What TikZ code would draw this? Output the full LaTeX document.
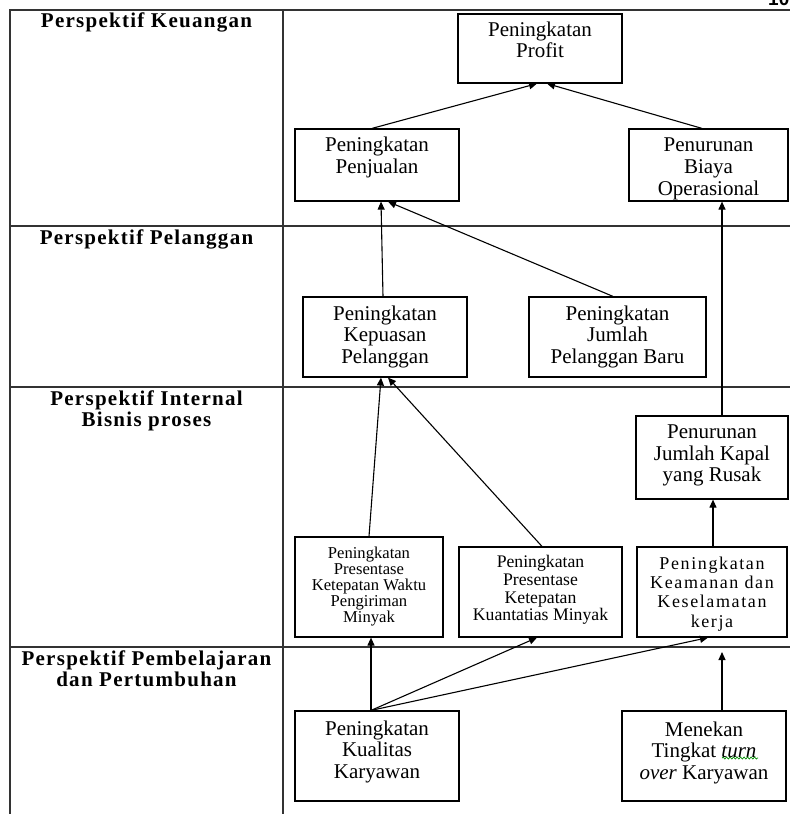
\documentclass[tikz,border=0pt]{standalone}
\usepackage{fontspec}
\setmainfont{Liberation Serif}
\newfontfamily\hdfont[LetterSpace=6]{Liberation Serif}
\newfontfamily\lsfont[LetterSpace=9]{Liberation Serif}
\newfontfamily\pgfont{Liberation Sans}
\usetikzlibrary{arrows.meta,decorations.pathmorphing}
\begin{document}
\begin{tikzpicture}[x=1pt,y=-1pt,
  gridline/.style={line width=1.6pt, draw=black!80},
  box/.style={draw, line width=1.2pt, rectangle, inner sep=0pt},
  lab/.style={anchor=north, inner sep=0pt, align=center, font=\fontsize{21}{21.7}\selectfont},
  hdr/.style={anchor=north, inner sep=0pt, align=center, font=\hdfont\bfseries\fontsize{21}{20.8}\selectfont},
  arr/.style={-{Triangle[length=8pt,width=7pt]}, line width=1.1pt},
  wavy/.style={draw=green!55!black, line width=0.7pt, decorate, decoration={snake, amplitude=1pt, segment length=3.5pt}}]
\useasboundingbox (0,0) rectangle (790,814);
% table
\draw[gridline] (10,814) -- (10,10) -- (790,10);
\draw[gridline] (283,10) -- (283,814);
\draw[gridline] (10,226) -- (790,226);
\draw[gridline] (10,387) -- (790,387);
\draw[gridline] (10,647) -- (790,647);
\node[anchor=base west, inner sep=0pt, font=\pgfont\bfseries\fontsize{19}{19}\selectfont] (pg) at (768,5) {10};
% headers
\node[hdr] (h1) at (146.5,12.7) {Perspektif Keuangan};
\node[hdr] (h2) at (146.5,229.3) {Perspektif Pelanggan};
\node[hdr] (h3) at (146.5,391) {Perspektif Internal\\Bisnis proses};
\node[hdr] (h4) at (146.5,650.7) {Perspektif Pembelajaran\\dan Pertumbuhan};
% boxes
\node[box, minimum width=164pt, minimum height=69pt, label={[lab, yshift=-8pt]north:{Peningkatan\\Profit}}] (profit) at (540,48.5) {};
\node[box, minimum width=164pt, minimum height=72pt, label={[lab, yshift=-8.5pt]north:{Peningkatan\\Penjualan}}] (penj) at (377,165) {};
\node[box, minimum width=159pt, minimum height=72pt, label={[lab, yshift=-9.5pt]north:{Penurunan\\Biaya\\Operasional}}] (biaya) at (708.5,165) {};
\node[box, minimum width=164pt, minimum height=80pt, label={[lab, yshift=-9pt]north:{Peningkatan\\Kepuasan\\Pelanggan}}] (kepuasan) at (385,337) {};
\node[box, minimum width=177pt, minimum height=80pt, label={[lab, yshift=-9pt]north:{Peningkatan\\Jumlah\\Pelanggan Baru}}] (baru) at (617.5,337) {};
\node[box, minimum width=152pt, minimum height=83pt, label={[lab, yshift=-9pt]north:{Penurunan\\Jumlah Kapal\\yang Rusak}}] (kapal) at (712,457.5) {};
\node[box, minimum width=148pt, minimum height=100pt, label={[lab, yshift=-10pt, font=\fontsize{16.6}{16}\selectfont]north:{Peningkatan\\Presentase\\Ketepatan Waktu\\Pengiriman\\Minyak}}] (waktu) at (369,587) {};
\node[box, minimum width=163pt, minimum height=90pt, label={[lab, yshift=-9pt, font=\fontsize{17.7}{17.7}\selectfont]north:{Peningkatan\\Presentase\\Ketepatan\\Kuantatias Minyak}}] (kuant) at (540.5,592) {};
\node[box, minimum width=150pt, minimum height=90pt, label={[lab, yshift=-10pt, font=\lsfont\fontsize{18}{19.4}\selectfont]north:{Peningkatan\\Keamanan dan\\Keselamatan\\kerja}}] (keaman) at (712,592) {};
\node[box, minimum width=164pt, minimum height=90pt, label={[lab, yshift=-10pt]north:{Peningkatan\\Kualitas\\Karyawan}}] (kualitas) at (377,756) {};
\node[box, minimum width=164pt, minimum height=90pt, label={[lab, yshift=-11pt]north:{Menekan\\Tingkat \textit{turn}\\\textit{over} Karyawan}}] (menekan) at (704,756) {};
\coordinate (wa) at (722,758);
\coordinate (wb) at (758,758);
\draw[wavy] (wa) -- (wb);
% connectors
\draw[arr] ([xshift=-5pt]penj.north) -- ([xshift=-3pt]profit.south);
\draw[arr] ([xshift=-6.5pt]biaya.north) -- ([xshift=7pt]profit.south);
\draw[arr] ([xshift=-2pt]kepuasan.north) -- ([xshift=4pt]penj.south);
\draw[arr] ([xshift=-4.5pt]baru.north) -- ([xshift=11pt]penj.south);
\draw[arr] ([xshift=10pt]kapal.north) -- ([xshift=13.5pt]biaya.south);
\draw[arr] (waktu.north) -- ([xshift=-4pt]kepuasan.south);
\draw[arr] ([xshift=1.5pt]kuant.north) -- ([xshift=3pt]kepuasan.south);
\draw[arr] ([xshift=1pt]keaman.north) -- ([xshift=1pt]kapal.south);
\draw[arr] ([xshift=-6pt]kualitas.north) -- ([xshift=2pt]waktu.south);
\draw[arr] ([xshift=-6pt]kualitas.north) -- ([xshift=-3.5pt]kuant.south);
\draw[arr] ([xshift=-6pt]kualitas.north) -- ([xshift=-4pt]keaman.south);
\coordinate (tend) at (722,652);
\draw[arr] ([xshift=18pt]menekan.north) -- (tend);
\end{tikzpicture}
\end{document}
